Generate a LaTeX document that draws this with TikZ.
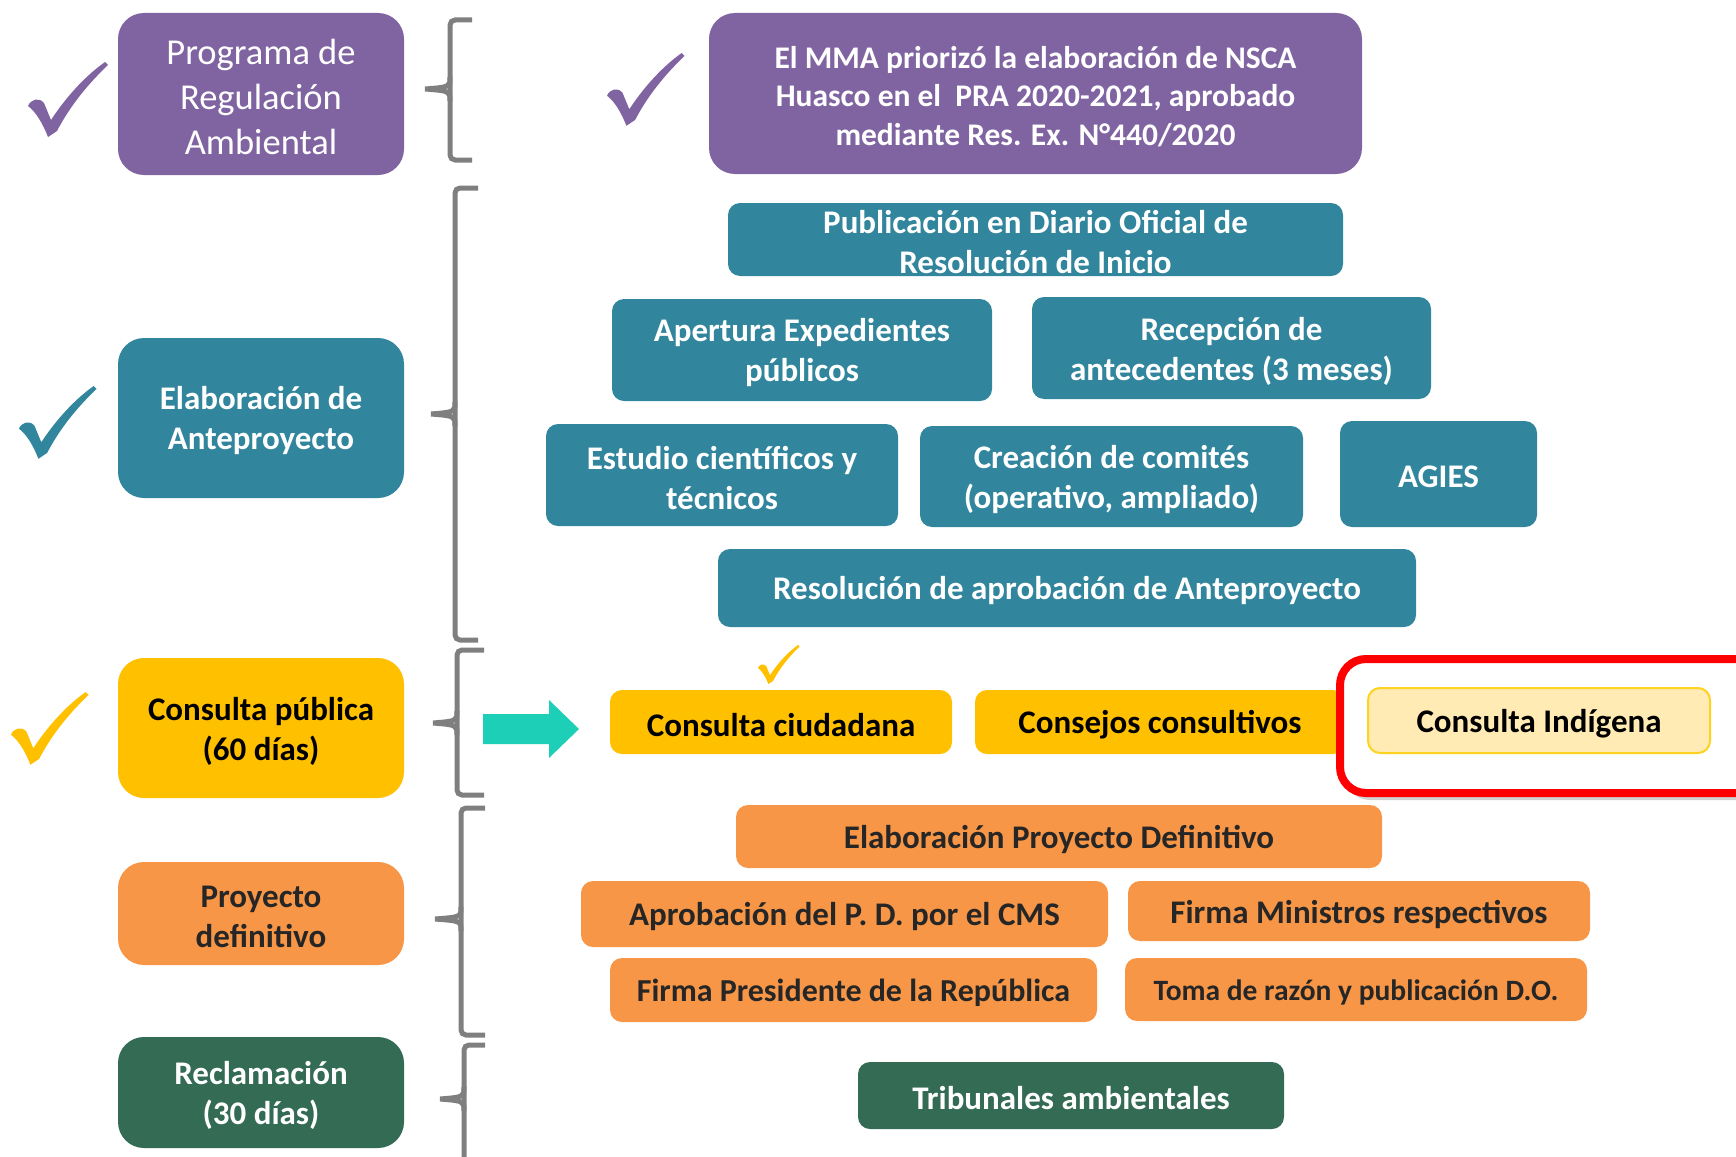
\documentclass[tikz,border=0pt]{standalone}
\usepackage{fontspec}
\setmainfont{Carlito}
\definecolor{cpur}{HTML}{8064A2}
\definecolor{ctea}{HTML}{31859C}
\definecolor{cyel}{HTML}{FFC000}
\definecolor{cora}{HTML}{F79646}
\definecolor{cgrn}{HTML}{336B55}
\definecolor{carr}{HTML}{1CCFB6}
\definecolor{cind}{HTML}{FFEBB3}
\definecolor{cindb}{HTML}{FFD21F}
\definecolor{cbr}{HTML}{7F7F7F}
\definecolor{ctxt}{HTML}{262626}
\tikzset{
  bx/.style={rectangle, rounded corners=12pt, inner sep=0pt},
  lbx/.style={bx, rounded corners=26pt, minimum width=286pt},
  txt/.style={align=center, inner sep=0pt, font=\bfseries\fontsize{33}{40}\selectfont, text=white},
  bracestyle/.style={draw=cbr, line width=5pt, rounded corners=5pt},
  chk/.pic={\fill[#1] (0,44) .. controls (3,37) and (11,35) .. (16,41) -- (23,58)
      .. controls (40,32) and (60,12) .. (77,0) -- (80,3)
      .. controls (60,22) and (42,44) .. (29,69) -- (20,75)
      .. controls (15,62) and (8,50) .. (0,44) -- cycle;},
}
\newcommand\mybrace[6]{%
  \draw[bracestyle] (#1,#4) -- (#2,#4) -- (#2,#6) -- (#1,#6);
  \draw[draw=cbr, line width=5pt] (#2,#5-12) .. controls (#2,#5-2) .. (#3,#5)
     (#2,#5+12) .. controls (#2,#5+2) .. (#3,#5);}
% #1 box options, #2 text options, #3 name, #4 position, #5 text
\newcommand\bxn[5]{%
  \node[bx,#1] (#3) at (#4) {};
  \node[txt,#2] (#3-t) at ([yshift=-3pt]#3.center) {#5};}
\begin{document}
\begin{tikzpicture}[x=1pt,y=-1pt]
\useasboundingbox (0,0) rectangle (1736,1156);
\clip (0,0) rectangle (1736,1156);
% left column
\bxn{lbx, fill=cpur, minimum height=162pt}{font=\fontsize{36.5}{45}\selectfont}{lpur}{261,94}{Programa de\\Regulación\\Ambiental}
\bxn{lbx, fill=ctea, minimum height=160pt}{}{ltea}{261,418}{Elaboración de\\Anteproyecto}
\bxn{lbx, fill=cyel, minimum height=140pt}{text=black}{lyel}{261,728}{Consulta pública\\(60 días)}
\bxn{lbx, fill=cora, minimum height=103pt}{text=ctxt}{lora}{261,913.5}{Proyecto\\definitivo}
\bxn{lbx, fill=cgrn, minimum height=111pt}{}{lgrn}{261,1092.5}{Reclamación\\(30 días)}
% checks
\pic at (28,62) {chk=cpur};
\pic[scale=0.97] at (19,386) {chk=ctea};
\pic[scale=0.97] at (11,692) {chk=cyel};
\pic[scale=0.52] at (758,645) {chk=cyel};
\pic[scale=0.97] at (607,53) {chk=cpur};
% braces
\mybrace{472}{450}{425}{20}{89}{160}
\mybrace{478}{455}{431}{188}{414}{640}
\mybrace{484}{457}{433}{650}{723}{795}
\mybrace{485}{461}{435}{808}{919}{1035}
\mybrace{485}{464}{440}{1045}{1099}{1200}
% right column
\bxn{fill=cpur, rounded corners=26pt, minimum width=653pt, minimum height=161pt}{font=\bfseries\fontsize{31.5}{38.7}\selectfont}{rpur}{1035.5,93.5}{El MMA priorizó la elaboración de NSCA\\Huasco en el\ \ PRA 2020-2021, aprobado\\mediante Res. Ex. N°440/2020}
\bxn{fill=ctea, minimum width=615pt, minimum height=73pt}{}{pub}{1035.5,239.5}{Publicación en Diario Oficial de\\Resolución de Inicio}
\bxn{fill=ctea, minimum width=380pt, minimum height=102pt}{}{ape}{802,350}{Apertura Expedientes\\públicos}
\bxn{fill=ctea, minimum width=399pt, minimum height=102pt}{}{rec}{1231.5,348}{Recepción de\\antecedentes (3 meses)}
\bxn{fill=ctea, minimum width=352pt, minimum height=102pt}{}{est}{722,475}{Estudio científicos y\\técnicos}
\bxn{fill=ctea, minimum width=383pt, minimum height=101pt}{}{cre}{1111.5,476.5}{Creación de comités\\(operativo, ampliado)}
\bxn{fill=ctea, minimum width=197pt, minimum height=106pt}{}{agi}{1438.5,474}{AGIES}
\bxn{fill=ctea, minimum width=698pt, minimum height=78pt}{}{res}{1067,588}{Resolución de aprobación de Anteproyecto}
% arrow
\fill[carr] (483,714) -- (549,714) -- (549,700) -- (579,729) -- (549,758) -- (549,744) -- (483,744) -- cycle;
\bxn{fill=cyel, minimum width=342pt, minimum height=64pt}{text=black}{cci}{781,722}{Consulta ciudadana}
\bxn{fill=cyel, minimum width=370pt, minimum height=64pt}{text=black}{ccs}{1160,722}{Consejos consultivos}
\fill[black, opacity=0.18, rounded corners=26pt] (1344,665) rectangle (1800,800);
\node[draw=red, fill=white, line width=8pt, rounded corners=26pt, minimum width=440pt, minimum height=134pt, inner sep=0pt] (frame) at (1560,726) {};
\bxn{fill=cind, draw=cindb, line width=2pt, minimum width=342pt, minimum height=65pt}{text=black}{cind}{1539,720.5}{Consulta Indígena}
\bxn{fill=cora, minimum width=646pt, minimum height=63pt}{text=ctxt}{epd}{1059,836.5}{Elaboración Proyecto Definitivo}
\bxn{fill=cora, minimum width=527pt, minimum height=66pt}{text=ctxt}{apr}{844.5,914}{Aprobación del P. D. por el CMS}
\bxn{fill=cora, minimum width=462pt, minimum height=60pt}{text=ctxt}{fmi}{1359,911}{Firma Ministros respectivos}
\bxn{fill=cora, minimum width=487pt, minimum height=64pt}{text=ctxt, font=\bfseries\fontsize{32}{40}\selectfont}{fpr}{853.5,990}{Firma Presidente de la República}
\bxn{fill=cora, minimum width=462pt, minimum height=63pt}{text=ctxt, font=\bfseries\fontsize{29.5}{36}\selectfont}{tom}{1356,989.5}{Toma de razón y publicación D.O.}
\bxn{fill=cgrn, minimum width=426pt, minimum height=67pt}{}{tri}{1071,1095.5}{Tribunales ambientales}
\end{tikzpicture}
\end{document}
